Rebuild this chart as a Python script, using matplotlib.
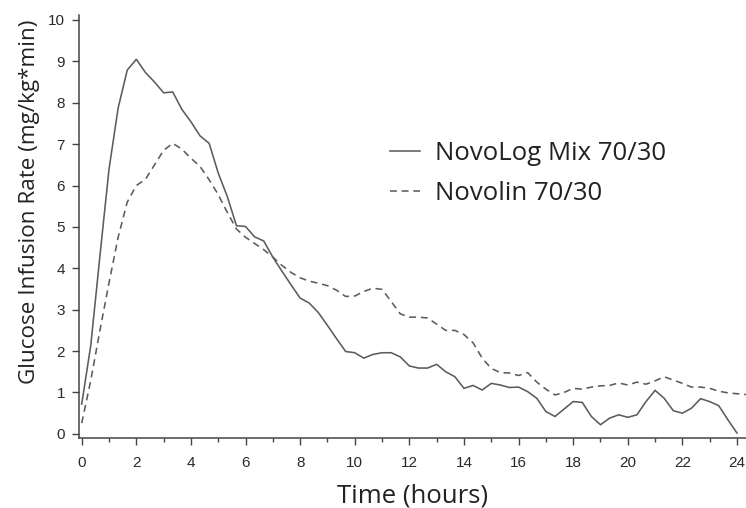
import numpy as np
import matplotlib
matplotlib.use("Agg")
import matplotlib.pyplot as plt
from matplotlib.ticker import MultipleLocator

# Time grid: every 20 minutes from 0 to 24 h
hours = [k / 3 for k in range(73)]

novolog_mix = [
    0.72, 2.15, 4.30, 6.40, 7.87, 8.79, 9.05, 8.73, 8.50, 8.24,
    8.26, 7.84, 7.54, 7.20, 7.02, 6.30, 5.73, 5.03, 5.01, 4.76,
    4.66, 4.27, 3.93, 3.60, 3.28, 3.16, 2.93, 2.62, 2.30, 1.99,
    1.96, 1.83, 1.92, 1.96, 1.96, 1.86, 1.64, 1.59, 1.59, 1.68,
    1.50, 1.38, 1.10, 1.17, 1.06, 1.22, 1.18, 1.12, 1.13, 1.02,
    0.86, 0.54, 0.42, 0.60, 0.78, 0.76, 0.42, 0.22, 0.38, 0.46,
    0.40, 0.46, 0.78, 1.05, 0.86, 0.56, 0.50, 0.62, 0.85, 0.78,
    0.68, 0.34, 0.02,
]

hours_novolin = hours + [24.33]
novolin = [
    0.26, 1.30, 2.50, 3.65, 4.75, 5.60, 6.00, 6.15, 6.50, 6.85,
    7.02, 6.88, 6.66, 6.46, 6.14, 5.78, 5.35, 4.95, 4.75, 4.60,
    4.45, 4.27, 4.07, 3.90, 3.77, 3.69, 3.64, 3.58, 3.47, 3.32,
    3.33, 3.44, 3.52, 3.49, 3.20, 2.90, 2.82, 2.82, 2.80, 2.65,
    2.50, 2.50, 2.40, 2.20, 1.83, 1.58, 1.48, 1.47, 1.41, 1.48,
    1.25, 1.08, 0.94, 1.00, 1.10, 1.08, 1.13, 1.16, 1.17, 1.23,
    1.18, 1.25, 1.20, 1.28, 1.38, 1.30, 1.22, 1.13, 1.13, 1.10,
    1.03, 0.99, 0.97, 0.95,
]

series_labels = ["NovoLog Mix 70/30", "Novolin 70/30"]
x_major = list(range(0, 25, 2))
y_ticks = list(range(0, 11))

W, H = 746, 508
fig = plt.figure(figsize=(W / 100, H / 100), dpi=100)
ax = fig.add_axes([79 / W, 1 - 438 / H, (W - 79) / W, (438 - 15) / H])

line_color = "#5c5c5c"
ax.plot(hours, novolog_mix, color=line_color, lw=1.15, label=series_labels[0],
        solid_joinstyle="miter")
ax.plot(hours_novolin, novolin, color=line_color, lw=1.15,
        linestyle=(0, (4.3, 3.0)), label=series_labels[1])

ax.set_xlim(-0.1, 24.33)
ax.set_ylim(-0.1, 10.12)

for s in ["top", "right"]:
    ax.spines[s].set_visible(False)
for s in ["left", "bottom"]:
    ax.spines[s].set_color("#444444")
    ax.spines[s].set_linewidth(1.1)

ax.set_xticks(x_major)
ax.xaxis.set_minor_locator(MultipleLocator(1))
ax.set_yticks(y_ticks)
ax.tick_params(axis="both", which="major", direction="out", length=5,
               width=1.0, color="#444444", labelcolor="#2a2a2a",
               labelsize=11)
ax.tick_params(axis="x", which="minor", direction="out", length=3,
               width=1.0, color="#444444")
ax.tick_params(axis="x", which="major", pad=8)
ax.tick_params(axis="y", which="major", pad=5)
for lab in ax.get_xticklabels() + ax.get_yticklabels():
    lab.set_fontfamily("Liberation Sans")

ax.set_xlabel("Time (hours)", fontsize=18.5, family="Open Sans",
              color="#222222", labelpad=10)
ax.set_ylabel("Glucose Infusion Rate (mg/kg*min)", fontsize=16.2,
              family="Open Sans", color="#222222")
ax.yaxis.set_label_coords(-0.059, (438 - 202) / (438 - 15))

leg = ax.legend(loc="center left", bbox_to_anchor=(390 / W, 1 - 173.5 / H),
                bbox_transform=fig.transFigure, frameon=False,
                prop={"family": "Open Sans", "size": 18.5},
                handlelength=1.15, handletextpad=0.6, labelspacing=0.55,
                borderpad=0, borderaxespad=0)
for t in leg.get_texts():
    t.set_color("#222222")

fig.savefig("out.png", dpi=100)
